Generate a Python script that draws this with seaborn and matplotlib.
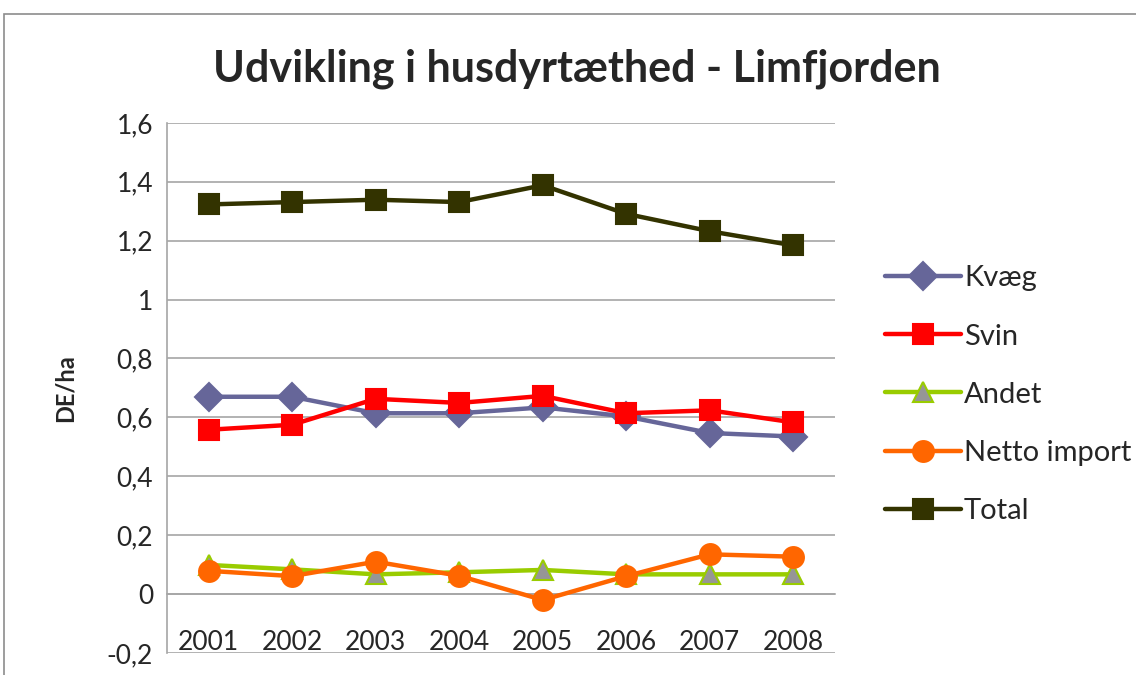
import matplotlib
matplotlib.use("Agg")
import matplotlib.pyplot as plt
import seaborn as sns
import pandas as pd
import numpy as np
from matplotlib.patches import Rectangle

years = ["2001", "2002", "2003", "2004", "2005", "2006", "2007", "2008"]
kvaeg = [0.670, 0.670, 0.614, 0.614, 0.634, 0.603, 0.547, 0.535]
svin = [0.558, 0.575, 0.663, 0.649, 0.673, 0.614, 0.624, 0.583]
andet = [0.099, 0.084, 0.067, 0.074, 0.082, 0.067, 0.067, 0.067]
netto = [0.079, 0.061, 0.110, 0.062, -0.020, 0.061, 0.135, 0.127]
total = [1.323, 1.331, 1.339, 1.331, 1.388, 1.291, 1.232, 1.184]
yticks = [-0.2, 0, 0.2, 0.4, 0.6, 0.8, 1.0, 1.2, 1.4, 1.6]
ytick_labels = ["-0,2", "0", "0,2", "0,4", "0,6", "0,8", "1", "1,2", "1,4", "1,6"]

series = {"Kvæg": kvaeg, "Svin": svin, "Andet": andet, "Netto import": netto, "Total": total}
df = pd.DataFrame([
    {"pos": i, "year": y, "series": name, "value": v}
    for name, vals in series.items() for i, (y, v) in enumerate(zip(years, vals))
])

styles = {
    "Kvæg": dict(color="#666699", marker="D", mfc="#666699", mec="#666699", ms=14),
    "Svin": dict(color="#FF0000", marker="s", mfc="#FF0000", mec="#FF0000", ms=14),
    "Andet": dict(color="#99CC00", marker="^", mfc="#969696", mec="#99CC00", ms=15),
    "Netto import": dict(color="#FF6600", marker="o", mfc="#FF6600", mec="#FF6600", ms=15),
    "Total": dict(color="#333300", marker="s", mfc="#333300", mec="#333300", ms=14),
}

sns.set_style("white")
plt.rcParams["font.family"] = ["Lato", "DejaVu Sans"]

fig = plt.figure(figsize=(11.36, 6.75), dpi=100)
ax = fig.add_axes([0.147, 0.0326, 0.588, 0.7854])

for name in series:
    st = styles[name]
    sub = df[df["series"] == name]
    sns.lineplot(data=sub, x="pos", y="value", ax=ax, color=st["color"], linewidth=3.2,
                 marker=st["marker"], markersize=st["ms"], markerfacecolor=st["mfc"],
                 markeredgecolor=st["mec"], markeredgewidth=1.5, label=name, zorder=3)

for s in ["top", "right"]:
    ax.spines[s].set_visible(False)
ax.spines["bottom"].set_position(("data", 0))
ax.spines["bottom"].set_color("#A6A6A6")
ax.spines["bottom"].set_linewidth(1.2)
ax.spines["left"].set_color("#A6A6A6")
ax.spines["left"].set_linewidth(1.2)

ax.set_xlim(-0.5, 7.5)
ax.set_ylim(-0.2, 1.6)
ax.set_yticks(yticks)
ax.set_yticklabels(ytick_labels)
ax.set_xticks(range(len(years)))
ax.set_xticklabels(years)
ax.grid(axis="y", color="#A6A6A6", linewidth=1.2)
ax.grid(axis="x", visible=False)
ax.set_axisbelow(True)
ax.tick_params(axis="x", length=0, pad=26, labelsize=19)
ax.tick_params(axis="y", length=0, pad=10, labelsize=19)
ax.set_xlabel("")
ax.set_ylabel("DE/ha", fontsize=17, fontweight="bold", labelpad=22)

fig.suptitle("Udvikling i husdyrtæthed - Limfjorden", x=0.508, y=0.928,
             fontsize=31, fontweight="bold")

leg = ax.legend(loc="upper left", bbox_to_anchor=(1.057, 0.753), frameon=False,
                fontsize=21, labelspacing=1.1, handlelength=2.6, handletextpad=0.12,
                borderaxespad=0)

fig.patches.append(Rectangle((0.0035, -0.1), 1.2, 1.079, transform=fig.transFigure,
                             fill=False, edgecolor="#8C8C8C", linewidth=1.2))

fig.savefig("out.png", dpi=100)
